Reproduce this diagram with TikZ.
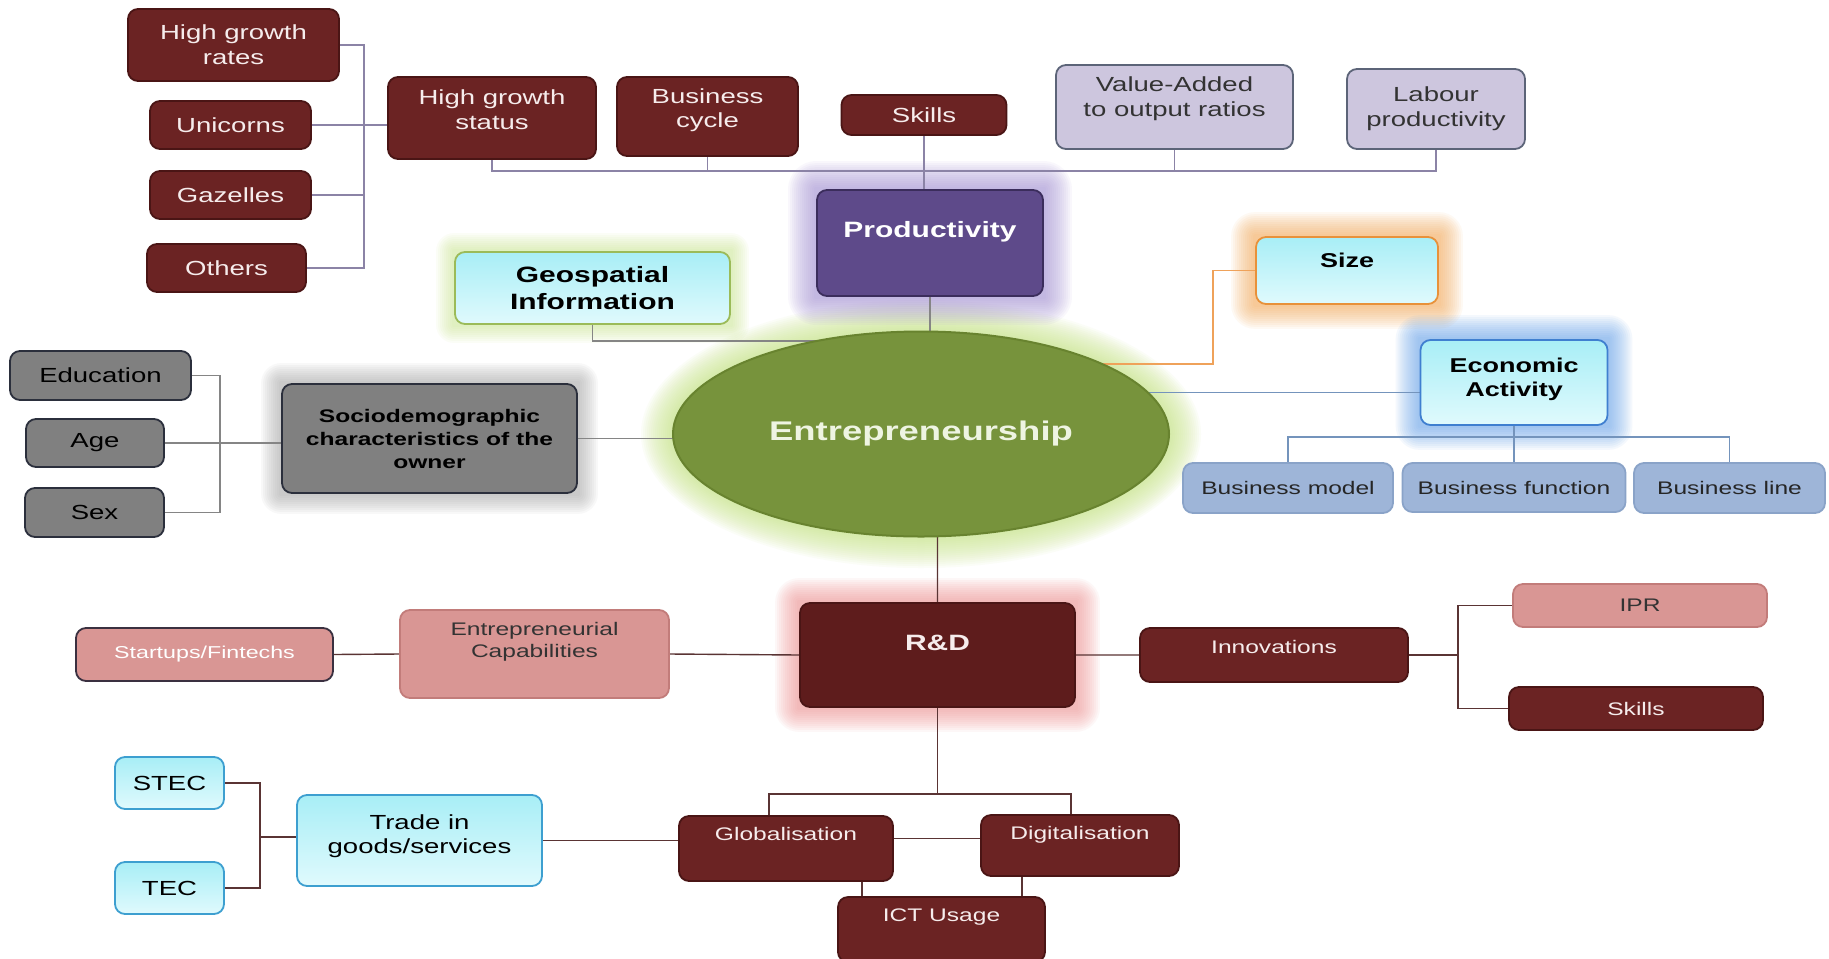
\documentclass[tikz,border=0pt]{standalone}
\usepackage{fontspec}
\setmainfont[FakeStretch=1.35]{Liberation Sans}
\usepackage{tikz}
\usetikzlibrary{shapes.geometric,backgrounds}

\definecolor{wine}{HTML}{6B2323}
\definecolor{wineline}{HTML}{4A1515}
\definecolor{winetext}{HTML}{F6ECEC}
\definecolor{rdfill}{HTML}{5E1C1C}
\definecolor{lilac}{HTML}{CDC6DE}
\definecolor{lilacline}{HTML}{5C6478}
\definecolor{prodfill}{HTML}{5E4A8A}
\definecolor{prodline}{HTML}{3B2D5C}
\definecolor{cyantop}{HTML}{A8EEF6}
\definecolor{cyanbot}{HTML}{E0FAFD}
\definecolor{geoline}{HTML}{9BBB59}
\definecolor{sizeline}{HTML}{E8913A}
\definecolor{ealine}{HTML}{3F7FD0}
\definecolor{tradeline}{HTML}{3D9FD0}
\definecolor{steel}{HTML}{9EB5D8}
\definecolor{steelline}{HTML}{8AA3C8}
\definecolor{grayfill}{HTML}{808080}
\definecolor{grayline}{HTML}{2B2F3C}
\definecolor{rose}{HTML}{D99694}
\definecolor{roseline}{HTML}{C27C7A}
\definecolor{darkline}{HTML}{3A3040}
\definecolor{entfill}{HTML}{77933C}
\definecolor{entline}{HTML}{68832F}
\definecolor{enttext}{HTML}{EEF4E2}
\definecolor{glowpurple}{HTML}{A592D6}
\definecolor{glowpink}{HTML}{EE8A8A}
\definecolor{gloworange}{HTML}{F7A650}
\definecolor{glowblue}{HTML}{5E9EEA}
\definecolor{glowgreen}{HTML}{C4E47E}
\definecolor{glowgray}{HTML}{9A9A9A}
\definecolor{lnpurple}{HTML}{8B83A6}
\definecolor{lngray}{HTML}{858585}
\definecolor{lnwine}{HTML}{5A3434}
\definecolor{lnorange}{HTML}{EFA25A}
\definecolor{lnblue}{HTML}{7494BC}

% text raised inside its box, box size unchanged
\newcommand{\liftup}[2]{\raisebox{#1}[\height][\depth]{\begin{tabular}{@{}c@{}}#2\end{tabular}}}

\begin{document}
\begin{tikzpicture}[x=0.5pt, y=-0.5pt,
  box/.style={rounded corners=5pt, align=center, inner sep=1pt, line width=0.9pt},
  winebox/.style={box, draw=wineline, fill=wine, text=winetext},
  lilacbox/.style={box, draw=lilacline, fill=lilac, text=black!80},
  prodbox/.style={box, draw=prodline, fill=prodfill, text=white},
  cyanbox/.style={box, top color=cyantop, bottom color=cyanbot, text=black},
  steelbox/.style={box, draw=steelline, fill=steel, text=black!85},
  graybox/.style={box, draw=grayline, fill=grayfill, text=black},
  rosebox/.style={box, draw=roseline, fill=rose, text=black!80},
  entnode/.style={ellipse, fill=entfill, draw=entline, line width=1pt,
    minimum width=248pt, minimum height=102.5pt, text=enttext,
    font=\bfseries\fontsize{13.5}{16}\selectfont},
  sz/.style 2 args={minimum width=#1pt, minimum height=#2pt},
  textmid/.style={font=\fontsize{10.2}{12.4}\selectfont},
  textsmall/.style={font=\fontsize{9.1}{11.2}\selectfont},
  textbold/.style={font=\bfseries\fontsize{11.1}{13.5}\selectfont},
  textboldsm/.style={font=\bfseries\fontsize{10}{12}\selectfont},
  link/.style={line width=0.7pt},
]
\useasboundingbox (0,0) rectangle (1829,958);

% productivity branch
\node[winebox, textmid, sz={105.5}{36}] (hgr) at (233.5,45) {High growth\\rates};
\node[winebox, textmid, sz={80.5}{24}] (uni) at (230.5,125) {Unicorns};
\node[winebox, textmid, sz={80.5}{24}] (gaz) at (230.5,195) {Gazelles};
\node[winebox, textmid, sz={79.5}{24}] (oth) at (226.5,268) {Others};
\node[winebox, textmid, sz={104}{41}] (hgs) at (492,118) {\liftup{3pt}{High growth\\status}};
\node[winebox, textmid, sz={90.5}{39.5}] (bcy) at (707.5,116.5) {\liftup{3pt}{Business\\cycle}};
\node[winebox, textmid, sz={82.5}{20}] (sk1) at (924,115) {Skills};
\node[lilacbox, textmid, sz={118.5}{42}] (vad) at (1174.5,107) {\liftup{4pt}{Value-Added\\to output ratios}};
\node[lilacbox, textmid, sz={89}{40}] (lab) at (1436,109) {Labour\\productivity};
\node[prodbox, textbold, sz={113}{53}] (prod) at (930,243) {\liftup{5.5pt}{Productivity}};

% centre
\node[entnode] (ent) at (921,434) {Entrepreneurship};
\node[cyanbox, draw=geoline, textbold, sz={137.5}{36}] (geo) at (592.5,288) {Geospatial\\Information};
\node[cyanbox, draw=sizeline, textboldsm, sz={91}{33.5}] (size) at (1347,270.5) {\liftup{3.7pt}{Size}};

% economic activity
\node[cyanbox, draw=ealine, textboldsm, sz={93.5}{42.5}] (ea) at (1514,382.5) {\liftup{1.5pt}{Economic\\Activity}};
\node[steelbox, textsmall, sz={105}{25}] (bmo) at (1288,488) {Business model};
\node[steelbox, textsmall, sz={111.5}{24.5}] (bfu) at (1514,487.5) {Business function};
\node[steelbox, textsmall, sz={95.5}{25}] (bli) at (1729.5,488) {Business line};

% owner
\node[graybox, textmid, sz={90.5}{24.5}] (edu) at (100.5,375.5) {Education};
\node[graybox, textmid, sz={69}{24}] (age) at (95,443) {Age};
\node[graybox, textmid, sz={69.5}{24.5}] (sex) at (94.5,512.5) {Sex};
\node[graybox, font=\bfseries\fontsize{9.1}{11.5}\selectfont, sz={147.5}{54.5}] (soc) at (429.5,438.5)
  {Sociodemographic\\characteristics of the\\owner};

% R&D branch
\node[winebox, fill=rdfill, textbold, sz={137.5}{52}] (rd) at (937.5,655) {\liftup{5pt}{R\&D}};
\node[rosebox, draw=darkline, text=white, font=\fontsize{8.6}{10.5}\selectfont, sz={128.5}{26.5}] (stu) at (204.5,654.5) {Startups/Fintechs};
\node[rosebox, textsmall, sz={134.5}{44}] (ecap) at (534.5,654) {\liftup{6pt}{Entrepreneurial\\Capabilities}};
\node[winebox, textsmall, sz={134}{27}] (inn) at (1274,655) {\liftup{3pt}{Innovations}};
\node[rosebox, textsmall, sz={127}{21.5}] (ipr) at (1640,605.5) {IPR};
\node[winebox, textsmall, sz={127}{21.5}] (sk2) at (1636,708.5) {Skills};
\node[winebox, textsmall, sz={107}{32.5}] (glob) at (786,848.5) {\liftup{6pt}{Globalisation}};
\node[winebox, textsmall, sz={99}{30.5}] (dig) at (1080,845.5) {\liftup{5pt}{Digitalisation}};
\node[winebox, textsmall, sz={103.5}{32.5}] (ict) at (941.5,929.5) {\liftup{6pt}{ICT Usage}};
\node[cyanbox, draw=tradeline, textmid, sz={54.5}{26}] (stec) at (169.5,783) {STEC};
\node[cyanbox, draw=tradeline, textmid, sz={54.5}{26}] (tec) at (169.5,888) {TEC};
\node[cyanbox, draw=tradeline, textmid, sz={122.5}{45.5}] (trade) at (419.5,840.5) {\liftup{2pt}{Trade in\\goods/services}};

\begin{scope}[on background layer]
\fill[white] (0,0) rectangle (1829,958);

% glows
\foreach \g in {1,...,16}
  \fill[glowgreen, opacity=0.06] (ent.center) ellipse [x radius={(124+\g)*1pt}, y radius={(51+\g)*1pt}];
\foreach \n/\c/\s in {prod/glowpurple/14, rd/glowpink/12, size/gloworange/12, ea/glowblue/12, geo/glowgreen/9, soc/glowgray/10}
  \foreach \g [evaluate=\g as \r using 1.4*\g+6] in {1,...,\s}
    \fill[\c, opacity=0.065, rounded corners=\r pt] ([shift={(-\g pt,-\g pt)}]\n.south west) rectangle ([shift={(\g pt,\g pt)}]\n.north east);

% connectors
\coordinate (hgj) at (364,125);
\coordinate (bus) at (0,171);
\draw[link, lnpurple] (hgr.east) -| (hgj) (gaz.east) -| (hgj) (oth.east) -| (hgj)
  (uni.east) -- (uni.east -| hgs.west);
\draw[link, lnpurple] (hgs.south) |- (lab.south |- bus) -- (lab.south);
\draw[link, lnpurple] (bcy.south) -- (bcy.south |- bus) (vad.south) -- (vad.south |- bus);
\draw[link, lnpurple] (sk1.south) -- (sk1.south |- prod.north);
\draw[link, lngray] (prod.south) -- (prod.south |- ent.center);

\coordinate (geoj) at (0,341);
\draw[link, lngray] (geo.south) -- (geo.south |- geoj) -- (geoj -| ent.center);
\coordinate (szj) at (1213,364);
\draw[link, lnorange] (size.west) -| (szj) -- (szj -| ent.center);
\draw[link, lnblue] ([yshift=-5pt]ea.west) -- ([yshift=-5pt]ea.west -| ent.center);
\coordinate (eaj) at (0,437);
\draw[link, lnblue] (ea.south) -- (ea.south |- eaj) (bmo.north) |- (bli.north |- eaj) -- (bli.north)
  (bfu.north) -- (bfu.north |- eaj);

\coordinate (agj) at (220,443);
\draw[link, lngray] (edu.east) -| (agj) (sex.east) -| (agj) (age.east) -- (age.east -| soc.west);
\draw[link, lngray] (soc.east) -- (soc.east -| ent.center);

\draw[link, lnwine] (rd.north) -- (rd.north |- ent.center) (stu.east) -- (ecap.west)
  (ecap.east) -- (rd.west) (rd.east) -- (inn.west);
\coordinate (inj) at (1458,0);
\draw[link, lnwine] (inn.east) -- (inn.east -| inj) (ipr.west) -| (inj |- sk2.west) -- (sk2.west);
\coordinate (glj) at (769,794);
\coordinate (dgj) at (1071,794);
\draw[link, lnwine] (rd.south) -- (rd.south |- glj) (glob.north -| glj) -- (glj) -- (dgj) -- (dig.north -| dgj);
\draw[link, lnwine] ([yshift=5pt]glob.east) -- ([yshift=5pt]glob.east -| dig.west);
\draw[link, lnwine] ([xshift=12.5pt]ict.north west) -- ([xshift=12.5pt]ict.north west |- glob.south)
  ([xshift=-12pt]ict.north east) -- ([xshift=-12pt]ict.north east |- dig.south);
\coordinate (trj) at (260,837);
\draw[link, lnwine] (stec.east) -| (trj) (tec.east) -| (trj) (trj) -- (trj -| trade.west)
  (trade.east) -- (trade.east -| glob.west);
\end{scope}
\end{tikzpicture}
\end{document}
